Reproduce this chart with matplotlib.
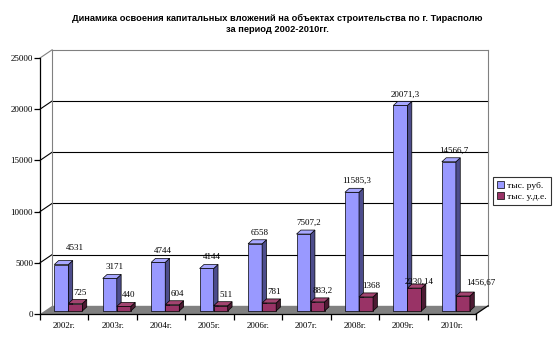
import matplotlib.pyplot as plt
from matplotlib.patches import Polygon, Patch

years = ['2002г.', '2003г.', '2004г.', '2005г.', '2006г.', '2007г.', '2008г.', '2009г.', '2010г.']
rub = [4531, 3171, 4744, 4144, 6558, 7507.2, 11585.3, 20071.3, 14566.7]
usd = [725, 440, 604, 511, 781, 883.2, 1368, 2230.14, 1456.67]
series_names = ['тыс. руб.', 'тыс. у.д.е.']
yticks = [0, 5000, 10000, 15000, 20000, 25000]

title = ('Динамика освоения капитальных вложений на объектах строительства по г. Тирасполю\n'
         'за период 2002-2010гг.')

serif = 'Liberation Serif'
sans = 'Liberation Sans'

front = ['#9999FF', '#993366']
side = ['#4D4D8C', '#4D1A33']
top = ['#A8A8FF', '#A34470']

# 3d look: wall depth, bar offset and bar depth in data units
wdx, wdy = 0.25, 800
bdx, bdy = 0.085, 300
ddx, ddy = 0.09, 390
width = 0.29

fig = plt.figure(figsize=(5.54, 3.44), dpi=100)
ax = fig.add_axes([40 / 554, 30 / 344, 436 / 554, 256 / 344])
ax.set_xlim(-0.5, 8.5)
ax.set_ylim(0, 25000)
for s in ['top', 'right', 'bottom']:
    ax.spines[s].set_visible(False)
ax.spines['left'].set_linewidth(0.9)

x0, x1 = -0.5, len(years) - 0.5
ymax = yticks[-1]

# floor
ax.add_patch(Polygon([(x0, 0), (x1, 0), (x1 + wdx, wdy), (x0 + wdx, wdy)],
                     closed=True, facecolor='#808080', edgecolor='none', clip_on=False, zorder=1))
ax.plot([x0, x1], [0, 0], color='black', lw=0.9, clip_on=False, zorder=2)
ax.plot([x1, x1 + wdx], [0, wdy], color='black', lw=0.9, clip_on=False, zorder=2)

# walls and gridlines
for y in yticks[1:]:
    c = '#808080' if y == ymax else 'black'
    ax.plot([x0, x0 + wdx], [y, y + wdy], color=c, lw=0.8, clip_on=False, zorder=1)
    ax.plot([x0 + wdx, x1 + wdx], [y + wdy, y + wdy], color=c, lw=0.8, clip_on=False, zorder=1)
ax.plot([x0 + wdx, x0 + wdx], [wdy, ymax + wdy], color='#808080', lw=0.8, clip_on=False, zorder=1)
ax.plot([x1 + wdx, x1 + wdx], [wdy, ymax + wdy], color='#808080', lw=0.8, clip_on=False, zorder=1)


def bar3d(xs, vals, k):
    lefts = [x + bdx - width / 2 for x in xs]
    ax.bar([x + bdx for x in xs], vals, width=width, bottom=bdy, color=front[k],
           edgecolor='black', linewidth=0.5, clip_on=False, zorder=3)
    for l, v in zip(lefts, vals):
        r = l + width
        t = v + bdy
        ax.add_patch(Polygon([(r, bdy), (r + ddx, bdy + ddy), (r + ddx, t + ddy), (r, t)],
                             closed=True, facecolor=side[k], edgecolor='black', lw=0.5,
                             clip_on=False, zorder=3))
        ax.add_patch(Polygon([(l, t), (r, t), (r + ddx, t + ddy), (l + ddx, t + ddy)],
                             closed=True, facecolor=top[k], edgecolor='black', lw=0.5,
                             clip_on=False, zorder=3))


idx = list(range(len(years)))
for i in idx:
    bar3d([i - width / 2], [rub[i]], 0)
    bar3d([i + width / 2], [usd[i]], 1)

# value labels
px_x = 436 / 9
px_y = 256 / 25000
nudge = {(0, 0): (9, 6), (7, 1): (0, -5), (8, 1): (13, 2)}
for k, vals in enumerate([rub, usd]):
    for i, v in enumerate(vals):
        cx = i + (k - 0.5) * width + bdx
        nx, ny = nudge.get((i, k), (0, 0))
        lab = f'{v:g}'.replace('.', ',')
        ax.text(cx + (5 + nx) / px_x, v + bdy + (11 + ny) / px_y, lab,
                ha='center', va='center', fontsize=6.5, family=serif, zorder=5)

ax.set_yticks(yticks)
ax.set_yticklabels([str(t) for t in yticks], family=serif, fontsize=6.5)
ax.set_xticks(idx)
ax.set_xticklabels(years, family=serif, fontsize=6.5)
ax.set_xticks([i - 0.5 for i in range(len(years) + 1)], minor=True)
ax.tick_params(axis='x', which='major', length=0, pad=6)
ax.tick_params(axis='x', which='minor', length=4, width=0.9, direction='out')
ax.tick_params(axis='y', length=4, width=0.9, pad=1)

fig.text(0.5, 1 - 14 / 344, title, ha='center', va='top', fontsize=6.65,
         fontweight='bold', family=sans, linespacing=1.25)

handles = [Patch(facecolor=front[k], edgecolor='black', lw=0.5) for k in range(2)]
leg = fig.legend(handles, series_names, loc='center left',
                 bbox_to_anchor=(493 / 554, 1 - 191 / 344), prop={'family': serif, 'size': 6.8},
                 frameon=True, fancybox=False, edgecolor='black', handlelength=0.7,
                 handleheight=0.7, handletextpad=0.3, borderpad=0.45, labelspacing=0.3,
                 borderaxespad=0)
leg.get_frame().set_linewidth(0.8)

fig.savefig('out.png', dpi=100)
